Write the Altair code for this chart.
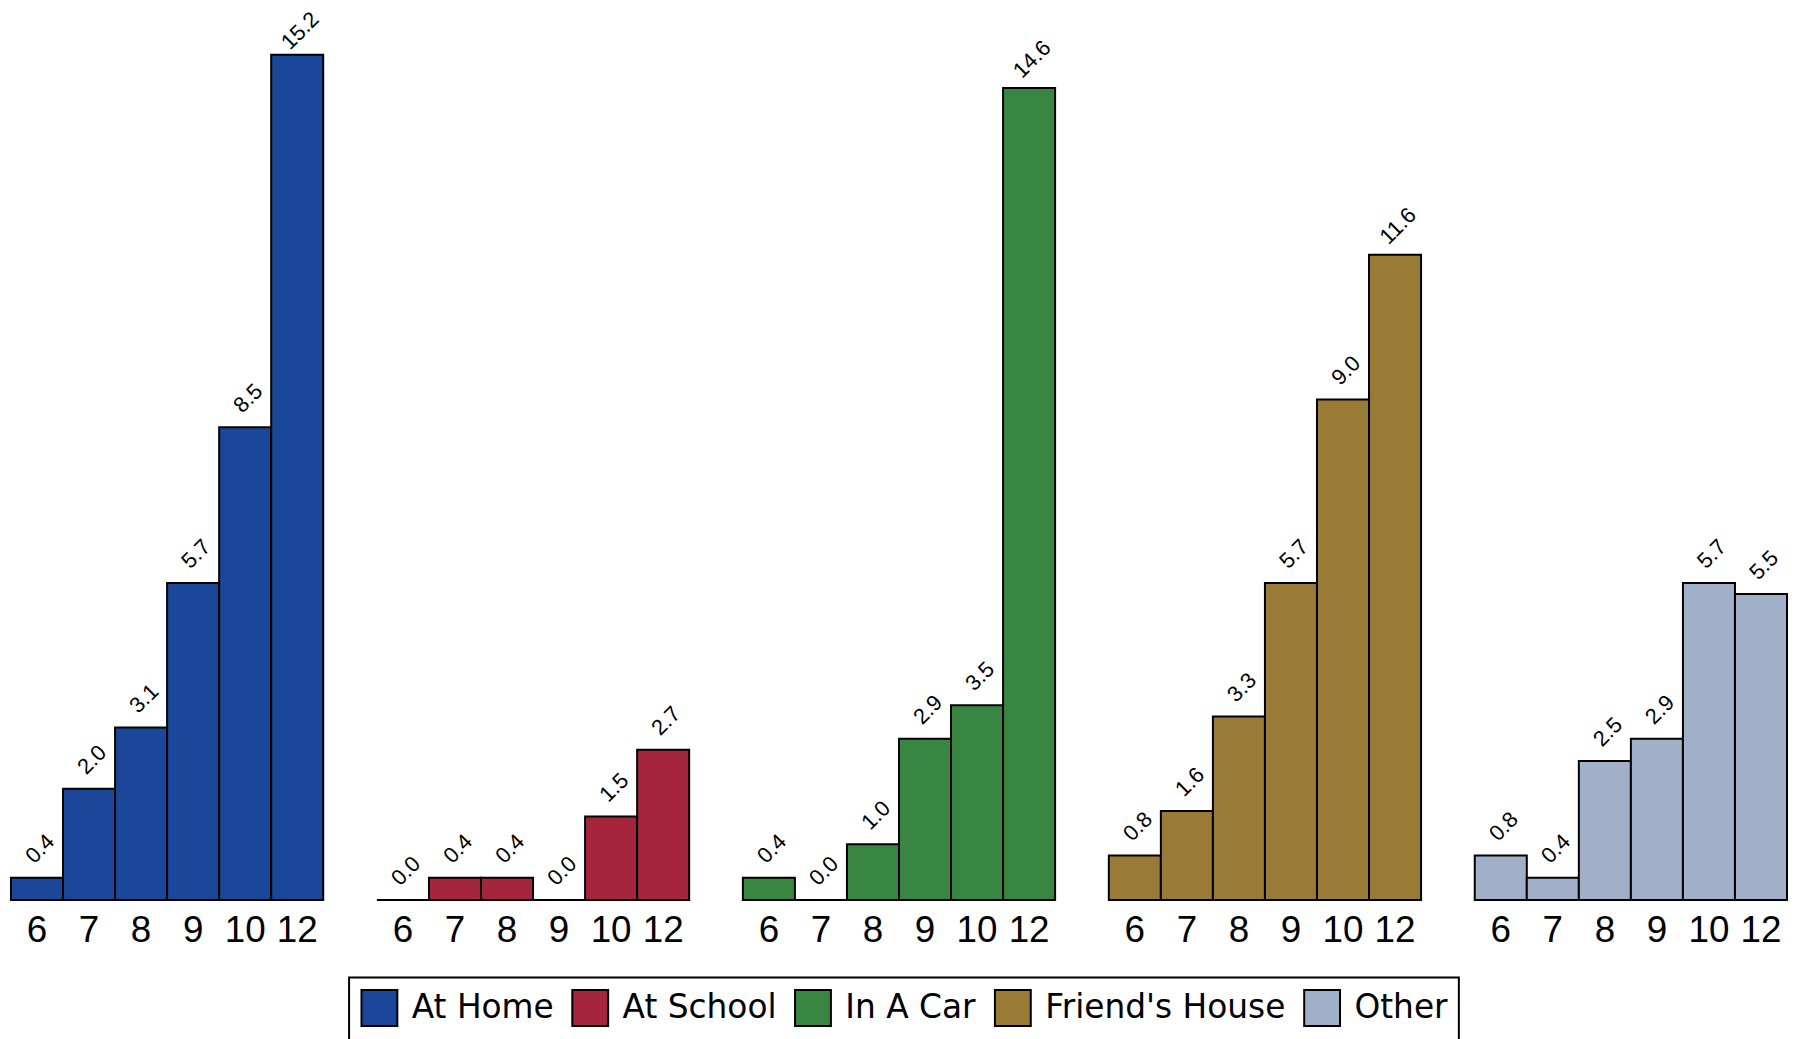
import altair as alt
import pandas as pd

locations = ["At Home", "At School", "In A Car", "Friend's House", "Other"]
grades = ["6", "7", "8", "9", "10", "12"]
at_home = [0.4, 2.0, 3.1, 5.7, 8.5, 15.2]
at_school = [0.0, 0.4, 0.4, 0.0, 1.5, 2.7]
in_a_car = [0.4, 0.0, 1.0, 2.9, 3.5, 14.6]
friends_house = [0.8, 1.6, 3.3, 5.7, 9.0, 11.6]
other = [0.8, 0.4, 2.5, 2.9, 5.7, 5.5]
colors = ["#1a4799", "#a5263c", "#388641", "#9a7b35", "#a1b0c8"]

series = [at_home, at_school, in_a_car, friends_house, other]
rows = []
for loc, vals in zip(locations, series):
    for g, v in zip(grades, vals):
        rows.append({"loc": loc, "grade": g, "pct": v})
df = pd.DataFrame(rows)

FONT = "Liberation Sans"
LEGEND_FONT = "DejaVu Sans"

YSCALE = alt.Scale(domain=[0, 15.88], nice=False)
XAXIS = alt.Axis(labelAngle=0, domain=False, ticks=False, tickSize=0,
                 labelPadding=13, labelFontSize=37, labelFont=FONT,
                 labelColor="black")


def panel(loc):
    base = alt.Chart(df).transform_filter(alt.datum.loc == loc)
    x = alt.X("grade:O", sort=grades, title=None,
              scale=alt.Scale(paddingInner=0, paddingOuter=0), axis=XAXIS)
    bars = base.mark_bar(stroke="black", strokeWidth=2, opacity=1).encode(
        x=x,
        y=alt.Y("pct:Q", scale=YSCALE, axis=None),
        color=alt.Color("loc:N", sort=locations,
                        scale=alt.Scale(domain=locations, range=colors),
                        legend=alt.Legend(title=None, orient="none", legendX=340, legendY=966,
                                          direction="horizontal", columns=5,
                                          symbolType="square", symbolSize=1300,
                                          symbolStrokeColor="black", symbolStrokeWidth=2,
                                          symbolOpacity=1,
                                          labelFontSize=33, labelFont=LEGEND_FONT,
                                          labelColor="black",
                                          labelLimit=500, labelOffset=13, columnPadding=14,
                                          padding=11, strokeColor="black",
                                          fillColor="white"))
    )
    # labels are kept inside the plot region (as in the original, the tallest is pushed down)
    labels = base.transform_calculate(ly="min(datum.pct, 15.11)").mark_text(
        angle=315, align="center", baseline="middle",
        xOffset=3, yOffset=-29, fontSize=22, font=FONT, color="black"
    ).encode(
        x=x,
        y=alt.Y("ly:Q", scale=YSCALE, axis=None),
        text=alt.Text("pct:Q", format=".1f"),
    )
    return alt.layer(bars, labels).properties(width=314, height=888)


chart = alt.hconcat(*[panel(l) for l in locations], spacing=52).properties(
    padding={"left": 2, "top": -3, "right": 0, "bottom": 0}
).configure_view(stroke=None).configure_legend(strokeWidth=2)

chart.save("out.html", embed_options={"renderer": "svg", "actions": False})
